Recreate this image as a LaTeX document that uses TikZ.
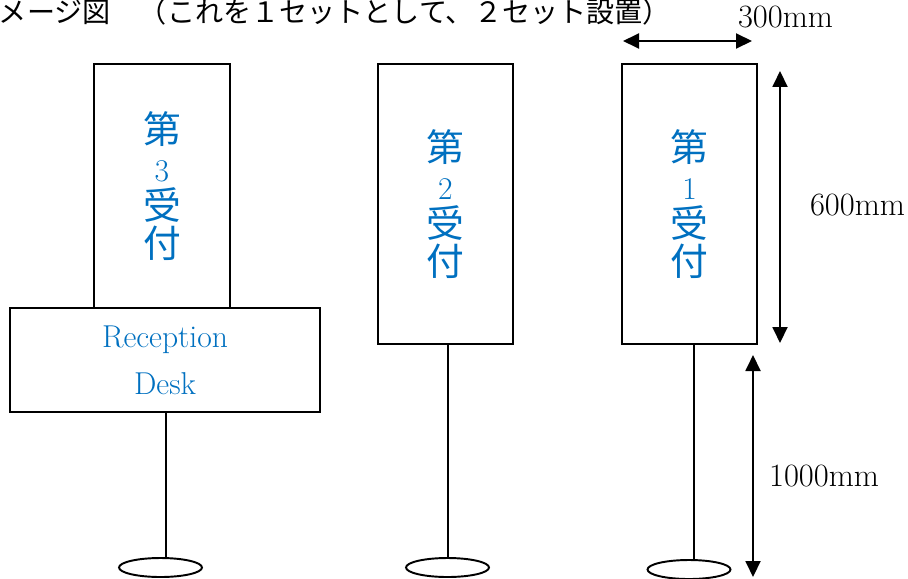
\documentclass[tikz,border=0pt]{standalone}
\usepackage{fontspec}
\usepackage{xcolor}
\newfontfamily\jpfont{Noto Sans CJK JP}
\usetikzlibrary{arrows.meta,positioning,shapes.geometric}
\definecolor{labelblue}{HTML}{0070C0}
\newcommand\dg[1]{{\rmfamily\fontsize{18pt}{21.6pt}\selectfont #1}}

\begin{document}
\begin{tikzpicture}[x=0.02cm, y=-0.02cm, line width=1.1pt,
    panel/.style={rectangle, draw, inner sep=0pt, minimum width=2.7cm, text=labelblue, align=center, font=\jpfont\fontsize{21.5pt}{21.6pt}\selectfont},
    foot/.style={ellipse, draw, inner sep=0pt, minimum width=1.66cm, minimum height=0.38cm},
    dimline/.style={{Triangle[length=0.32cm,width=0.3cm]}-{Triangle[length=0.32cm,width=0.3cm]}},
    dimtext/.style={inner sep=0pt, font=\fontsize{18.5pt}{20pt}\selectfont}]
    \useasboundingbox (0,0) rectangle (908,578);

    % caption
    \node(title) [anchor=west, inner sep=0pt, font=\jpfont\fontsize{16pt}{18pt}\selectfont] at (-2,12) {メージ図　（これを１セットとして、２セット設置）};

    % panels
    \node(b3) [panel, minimum width=2.72cm, minimum height=4.88cm] at (162,186) {第\\\dg{3}\\受\\付};
    \node(b2) [panel, minimum height=5.6cm] at (445.5,204) {第\\\dg{2}\\受\\付};
    \node(b1) [panel, minimum height=5.6cm] at (689.5,204) {第\\\dg{1}\\受\\付};
    \node(desk) [rectangle, draw, minimum width=6.2cm, minimum height=2.08cm, text=labelblue, align=center, font=\fontsize{18pt}{26.7pt}\selectfont] at (165,360) {Reception\\Desk};

    % feet and poles
    \node(e3) [foot] at (160.5,567.5) {};
    \node(e2) [foot] at (447.5,567.5) {};
    \node(e1) [foot] at (689,569.5) {};
    \coordinate (p3) at (166,558);
    \coordinate (p2) at (448,558);
    \coordinate (p1) at (694,560);
    \draw (p3 |- desk.south) -- (p3);
    \draw (p2 |- b2.south) -- (p2);
    \draw (p1 |- b1.south) -- (p1);

    % dimensions
    \coordinate (w1) at (623,41);
    \coordinate (w2) at (752,41);
    \coordinate (h1) at (780,71);
    \coordinate (h2) at (780,343);
    \coordinate (g1) at (753,355);
    \coordinate (g2) at (753,577);
    \draw[dimline] (w1) -- (w2);
    \draw[dimline] (h1) -- (h2);
    \draw[dimline] (g1) -- (g2);
    \node(wlab) [dimtext] at (785.5,17.5) {300mm};
    \node(hlab) [dimtext] at (857.5,205) {600mm};
    \node(glab) [dimtext] at (824,476.5) {1000mm};
\end{tikzpicture}
\end{document}
